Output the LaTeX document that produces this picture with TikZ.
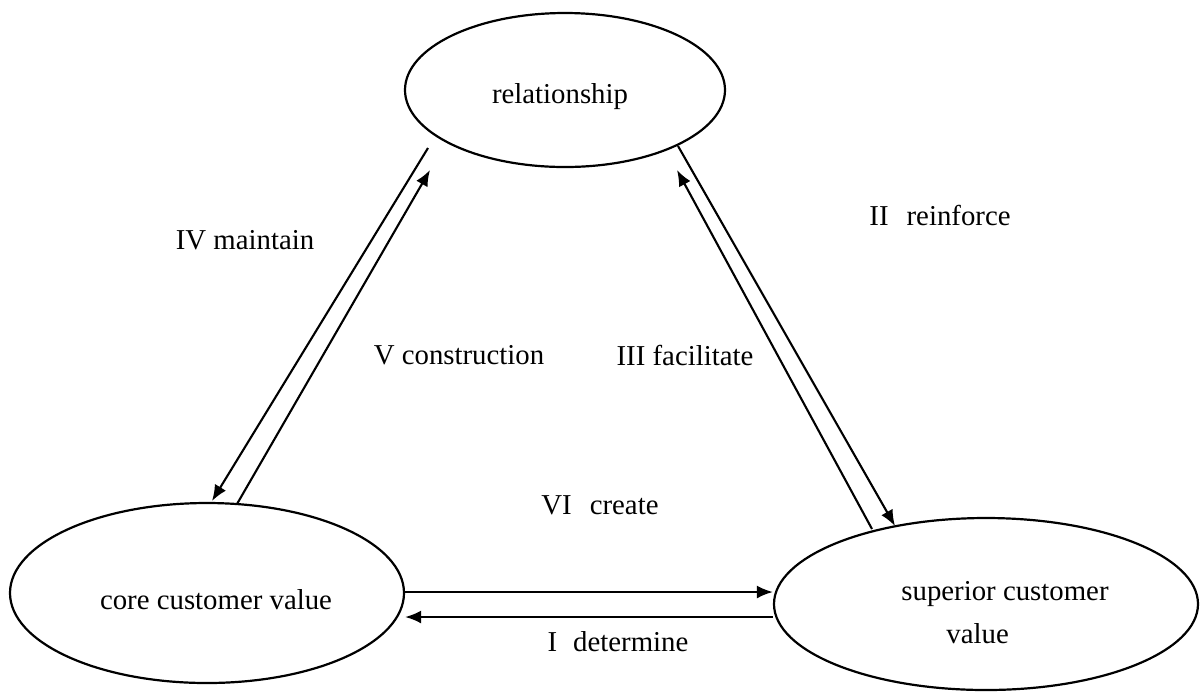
\documentclass[tikz,border=0pt]{standalone}
\usepackage{fontspec}
\setmainfont{Liberation Serif}
\usetikzlibrary{shapes.geometric,arrows.meta}
\tikzset{
  oval/.style={draw, ellipse, line width=1.1pt, inner sep=0pt},
  lbl/.style={font=\fontsize{14.4}{21.5}\selectfont, inner sep=0pt},
  arr/.style={line width=1.05pt, -{Latex[length=8pt,width=6.5pt]}},
}
\begin{document}
\begin{tikzpicture}[x=0.5pt,y=-0.5pt]
\useasboundingbox (0,0) rectangle (1200,693);
\fill[white] (0,0) rectangle (1200,693);

% the three value ellipses
\node[oval, minimum width=160pt, minimum height=77pt,
      label={[lbl, xshift=-2.5pt, yshift=-3.5pt]center:relationship}] (rel) at (565,90) {};
\node[oval, minimum width=197pt, minimum height=90pt,
      label={[lbl, xshift=4.5pt, yshift=-3.5pt]center:core customer value}] (core) at (207,593) {};
\node[oval, minimum width=212pt, minimum height=86pt,
      label={[lbl, align=left, xshift=9.5pt, yshift=-4.5pt]center:{superior customer\\\hspace*{22.5pt}value}}] (sup) at (986,604) {};

% end points of the paired connectors
\coordinate (a1) at (428,148);  \coordinate (a2) at (212,501);
\coordinate (b1) at (237,504);  \coordinate (b2) at (430,170);
\coordinate (c1) at (678,146);  \coordinate (c2) at (895,526);
\coordinate (d1) at (872,529);  \coordinate (d2) at (677,170);

% relationship <-> core customer value
\draw[arr] (a1) -- (a2);
\draw[arr] (b1) -- (b2);
% relationship <-> superior customer value
\draw[arr] (c1) -- (c2);
\draw[arr] (d1) -- (d2);
% core <-> superior customer value
\draw[arr] (core.east |- 0,592) -- (sup.west |- 0,592);
\draw[arr] (sup.west |- 0,617) -- (core.east |- 0,617);

% connector labels
\node[lbl] (l4) at (245,240) {IV maintain};
\node[lbl] (l5) at (459,355) {V construction};
\node[lbl] (l3) at (685,355) {III facilitate};
\node[lbl] (l6) at (600,505) {VI\hspace{9pt}create};
\node[lbl] (l2) at (940,215) {II\hspace{9pt}reinforce};
\node[lbl] (l1) at (618,642) {I\hspace{8pt}determine};
\end{tikzpicture}
\end{document}
